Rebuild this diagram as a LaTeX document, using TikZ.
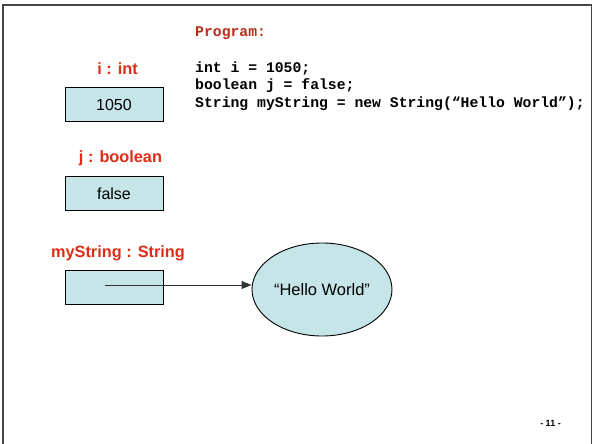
\documentclass[tikz,border=0pt]{standalone}
\usepackage{fontspec}
\setmainfont{Liberation Sans}
\newfontfamily\codefont{Liberation Mono}
\usetikzlibrary{arrows.meta,shapes.geometric}
\definecolor{cellfill}{RGB}{197,229,232}
\definecolor{labelred}{RGB}{222,45,22}
\definecolor{progred}{RGB}{184,44,24}
\definecolor{framegray}{RGB}{70,70,70}
\tikzset{
  cell/.style={draw=black, line width=0.9pt, fill=cellfill, minimum width=98pt,
    minimum height=34pt, inner sep=0pt, font=\fontsize{16}{18}\selectfont},
  varlabel/.style={text=labelred, font=\fontsize{16.3}{19}\selectfont\bfseries, inner sep=0pt},
  codeline/.style={anchor=base west, inner sep=0pt, font=\codefont\bfseries\fontsize{14.75}{17}\selectfont},
  objnode/.style={ellipse, draw=black, line width=0.9pt, fill=cellfill, minimum width=140pt,
    minimum height=93pt, inner sep=0pt, font=\fontsize{16.5}{18}\selectfont},
  refarrow/.style={draw=black!80, line width=1pt, -{Triangle[length=10pt,width=8pt]}},
}
\begin{document}
\begin{tikzpicture}[x=1pt,y=-1pt]
  \useasboundingbox (0,0) rectangle (592,444);
  % page frame
  \draw[framegray, line width=1.3pt] (3,444) -- (3,5) -- (591.5,5) -- (591.5,444);

  % program listing
  \node[codeline, text=progred] (ptitle) at (195,37) {Program:};
  \node[codeline] (line1) at (195,73) {int i = 1050;};
  \node[codeline] (line2) at (195,90) {boolean j = false;};
  \node[codeline] (line3) at (195,107) {String myString = new String(“Hello World”);};

  % variable i
  \node[varlabel] (lbli) at (117.5,69) {i : int};
  \node[cell] (celli) at (114,104.5) {1050};

  % variable j
  \node[varlabel] (lblj) at (120.5,158) {j : boolean};
  \node[cell] (cellj) at (114,193.5) {false};

  % reference variable myString
  \node[varlabel] (lbls) at (118,253) {myString : String};
  \node[cell] (cells) at (114,287) {};
  \node[objnode] (obj) at (322,289.5) {“Hello World”};
  \coordinate (refstart) at (105,285);
  \draw[refarrow] (refstart) -- (refstart -| obj.west);

  % page number
  \node[font=\fontsize{9}{10}\selectfont\bfseries, inner sep=0pt] (pnum) at (550.5,423) {- 11 -};
\end{tikzpicture}
\end{document}
